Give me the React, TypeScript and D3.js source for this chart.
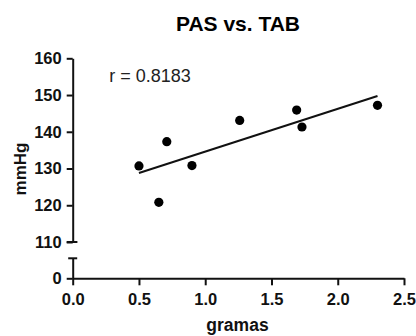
import { useRef, useEffect } from 'react'
import * as d3 from 'd3'

// PAS (mmHg) vs. TAB (gramas)
const gramas = [0.50, 0.65, 0.71, 0.90, 1.26, 1.69, 1.73, 2.30]
const mmHg = [130.7, 120.8, 137.3, 130.8, 143.1, 145.9, 141.3, 147.2]
const xTicks = [0, 0.5, 1.0, 1.5, 2.0, 2.5]
const yTicksTop = [110, 120, 130, 140, 150, 160]
const yTicksLow = [0]
const rLabel = 'r = 0.8183'

const FONT = '"Liberation Sans", Arial, Helvetica, sans-serif'

export default function App() {
  const svgRef = useRef<SVGSVGElement>(null)

  useEffect(() => {
    if (!svgRef.current) return
    const svg = d3.select(svgRef.current)
    svg.selectAll('*').remove()

    const left = 72.7
    const right = 404

    // Scales - broken y axis (upper 110-160, lower 0)
    const x = d3.scaleLinear().domain([0, 2.5]).range([left, right])
    const yTop = d3.scaleLinear().domain([110, 160]).range([242, 58.3])
    const yLow = d3.scaleLinear().domain([0, 5]).range([278.3, 258.3])

    // Upper y segment
    const gTop = svg.append('g')
      .attr('transform', `translate(${left},0)`)
      .call(d3.axisLeft(yTop).tickValues(yTicksTop).tickFormat(d3.format('d')).tickSize(6).tickSizeOuter(0).tickPadding(5))

    // Lower y segment
    const gLow = svg.append('g')
      .attr('transform', `translate(${left},0)`)
      .call(d3.axisLeft(yLow).tickValues(yTicksLow).tickFormat(d3.format('d')).tickSize(6).tickSizeOuter(0).tickPadding(5))

    // X axis
    const gX = svg.append('g')
      .attr('transform', `translate(0,${yLow(0)})`)
      .call(d3.axisBottom(x).tickValues(xTicks).tickFormat(d3.format('.1f')).tickSize(7).tickSizeOuter(0).tickPadding(8))

    for (const g of [gTop, gLow, gX]) {
      g.selectAll('.domain').attr('stroke', '#111').attr('stroke-width', 2)
      g.selectAll('.tick line').attr('stroke', '#111').attr('stroke-width', 2)
      g.selectAll('text')
        .attr('fill', '#111')
        .attr('font-family', FONT)
        .attr('font-weight', 'bold')
        .attr('font-size', '16.5px')
    }

    // Break caps
    svg.append('line')
      .attr('x1', left - 6).attr('x2', left + 4.7)
      .attr('y1', yTop(110)).attr('y2', yTop(110))
      .attr('stroke', '#111').attr('stroke-width', 2)
    svg.append('line')
      .attr('x1', left - 4.5).attr('x2', left + 4.5)
      .attr('y1', yLow(5)).attr('y2', yLow(5))
      .attr('stroke', '#111').attr('stroke-width', 2)

    // Linear fit
    const mx = d3.mean(gramas) ?? 0
    const my = d3.mean(mmHg) ?? 0
    const sxy = d3.sum(gramas, (v, i) => (v - mx) * (mmHg[i] - my))
    const sxx = d3.sum(gramas, v => (v - mx) ** 2)
    const slope = sxy / sxx
    const x0 = d3.min(gramas) ?? 0
    const x1 = d3.max(gramas) ?? 0
    svg.append('line')
      .attr('x1', x(x0)).attr('y1', yTop(my + slope * (x0 - mx)))
      .attr('x2', x(x1)).attr('y2', yTop(my + slope * (x1 - mx)))
      .attr('stroke', '#111').attr('stroke-width', 2)

    // Points
    svg.selectAll('.pt')
      .data(gramas)
      .enter()
      .append('circle')
      .attr('class', 'pt')
      .attr('cx', d => x(d))
      .attr('cy', (_, i) => yTop(mmHg[i]))
      .attr('r', 4.6)
      .attr('fill', '#000')

    // Title
    svg.append('text')
      .attr('x', 238).attr('y', 31)
      .attr('text-anchor', 'middle')
      .attr('font-family', FONT).attr('font-weight', 'bold').attr('font-size', '21px')
      .attr('fill', '#000')
      .text('PAS vs. TAB')

    // r label
    svg.append('text')
      .attr('x', 109.3).attr('y', 81.5)
      .attr('font-family', FONT).attr('font-size', '18px')
      .attr('fill', '#222')
      .text(rLabel)

    // Axis titles
    svg.append('text')
      .attr('transform', 'translate(25.5,169) rotate(-90)')
      .attr('text-anchor', 'middle')
      .attr('font-family', FONT).attr('font-weight', 'bold').attr('font-size', '17px')
      .attr('fill', '#111')
      .text('mmHg')

    svg.append('text')
      .attr('x', 237.5).attr('y', 331)
      .attr('text-anchor', 'middle')
      .attr('font-family', FONT).attr('font-weight', 'bold').attr('font-size', '17.5px')
      .attr('fill', '#111')
      .text('gramas')
  }, [])

  return (
    <svg
      ref={svgRef}
      width={416}
      height={336}
      style={{ position: 'absolute', left: 0, top: 0, background: '#fff' }}
    />
  )
}
